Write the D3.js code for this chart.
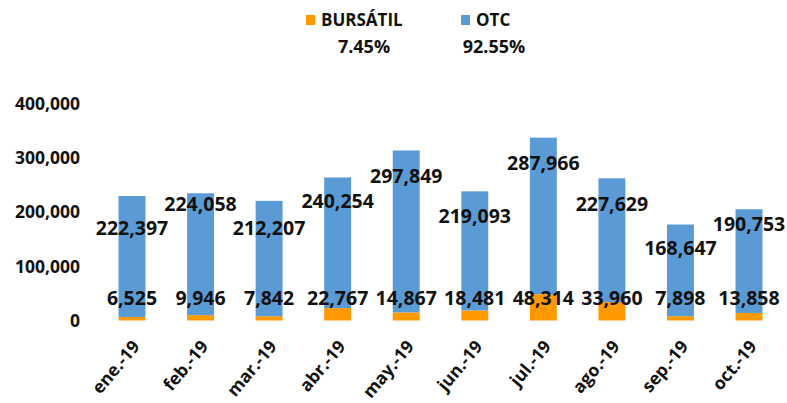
<!DOCTYPE html>
<html>

<head>
  <meta http-equiv="Content-Type" content="text/html;charset=utf-8" />
  <style type="text/css">
    body {
      margin: 0;
      background: #fff;
    }

    text {
      font-family: "Open Sans", "Liberation Sans", sans-serif;
      font-weight: bold;
      fill: #111;
    }
  </style>
</head>

<body>
  <div id="svgContainer"></div>
  <script src="https://d3js.org/d3.v7.min.js"></script>

  <script type="text/javascript">
    var w = 787;
    var h = 403;

    // data
    var months = ["ene.-19", "feb.-19", "mar.-19", "abr.-19", "may.-19",
      "jun.-19", "jul.-19", "ago.-19", "sep.-19", "oct.-19"];
    var bursatil = [6525, 9946, 7842, 22767, 14867, 18481, 48314, 33960, 7898, 13858];
    var otc = [222397, 224058, 212207, 240254, 297849, 219093, 287966, 227629, 168647, 190753];
    var yTicks = [0, 100000, 200000, 300000, 400000];

    // how far each OTC label sits below the top of its bar (px)
    var otcLabelDrop = [32, 11, 27, 24, 26, 25, 26, 26, 24, 15];

    var colBurs = "#FF9900";
    var colOtc = "#5B9BD5";

    var svg = d3.select("#svgContainer")
      .append("svg")
      .attr("width", w)
      .attr("height", h);

    var xScale = d3.scaleBand()
      .domain(months)
      .range([97.7, 783.3])
      .paddingInner(0.607)
      .paddingOuter(0.3035);
    var yScale = d3.scaleLinear().domain([0, 400000]).range([320.5, 103]);

    var fmt = d3.format(",");

    var rows = months.map(function (m, i) {
      return { m: m, b: bursatil[i], o: otc[i], drop: otcLabelDrop[i] };
    });

    // y axis: labels only
    var yAxis = d3.axisLeft(yScale).tickValues(yTicks).tickFormat(fmt).tickSize(0).tickPadding(0);
    var gy = svg.append("g")
      .attr("transform", "translate(80,0)")
      .call(yAxis);
    gy.attr("font-family", null).attr("font-size", null);
    gy.select(".domain").remove();
    gy.selectAll("text")
      .style("font-size", "17.5px")
      .attr("fill", "#111")
      .attr("dy", "0.35em");

    // x labels, rotated
    var bw = xScale.bandwidth();
    svg.selectAll(".xl")
      .data(months)
      .enter()
      .append("text")
      .attr("class", "xl")
      .attr("text-anchor", "end")
      .style("font-size", "17.5px")
      .attr("transform", (d) => "translate(" + (xScale(d) + bw / 2 + 4) + ",343) rotate(-50)")
      .attr("dy", "0.35em")
      .text((d) => d);

    // stacked bars
    svg.selectAll(".burs")
      .data(rows)
      .enter()
      .append("rect")
      .attr("class", "burs")
      .attr("x", (d) => xScale(d.m))
      .attr("width", bw)
      .attr("y", (d) => yScale(d.b))
      .attr("height", (d) => yScale(0) - yScale(d.b))
      .attr("fill", colBurs);

    svg.selectAll(".otc")
      .data(rows)
      .enter()
      .append("rect")
      .attr("class", "otc")
      .attr("x", (d) => xScale(d.m))
      .attr("width", bw)
      .attr("y", (d) => yScale(d.b + d.o))
      .attr("height", (d) => yScale(d.b) - yScale(d.b + d.o))
      .attr("fill", colOtc);

    // value labels
    svg.selectAll(".lblB")
      .data(rows)
      .enter()
      .append("text")
      .attr("class", "lblB")
      .attr("x", (d) => xScale(d.m) + bw / 2)
      .attr("y", 298)
      .attr("dy", "0.35em")
      .attr("text-anchor", "middle")
      .style("font-size", "19.5px")
      .text((d) => fmt(d.b));

    svg.selectAll(".lblO")
      .data(rows)
      .enter()
      .append("text")
      .attr("class", "lblO")
      .attr("x", (d) => xScale(d.m) + bw / 2)
      .attr("y", (d) => yScale(d.b + d.o) + d.drop)
      .attr("dy", "0.35em")
      .attr("text-anchor", "middle")
      .style("font-size", "19.5px")
      .text((d) => fmt(d.o));

    // legend with shares
    var totB = d3.sum(bursatil), totO = d3.sum(otc);
    var pct = d3.format(".2%");
    var legend = [
      { name: "BURSÁTIL", color: colBurs, share: totB / (totB + totO), x: 306, px: 364 },
      { name: "OTC", color: colOtc, share: totO / (totB + totO), x: 461, px: 494 }
    ];
    var lg = svg.selectAll(".leg")
      .data(legend)
      .enter()
      .append("g")
      .attr("class", "leg");
    lg.append("rect")
      .attr("x", (d) => d.x)
      .attr("y", 15)
      .attr("width", 9)
      .attr("height", 10)
      .attr("fill", (d) => d.color);
    lg.append("text")
      .attr("x", (d) => d.x + 15)
      .attr("y", 20)
      .attr("dy", "0.35em")
      .style("font-size", "17px")
      .text((d) => d.name);
    lg.append("text")
      .attr("x", (d) => d.px)
      .attr("y", 47)
      .attr("dy", "0.35em")
      .attr("text-anchor", "middle")
      .style("font-size", "18px")
      .text((d) => pct(d.share));
  </script>
</body>

</html>
